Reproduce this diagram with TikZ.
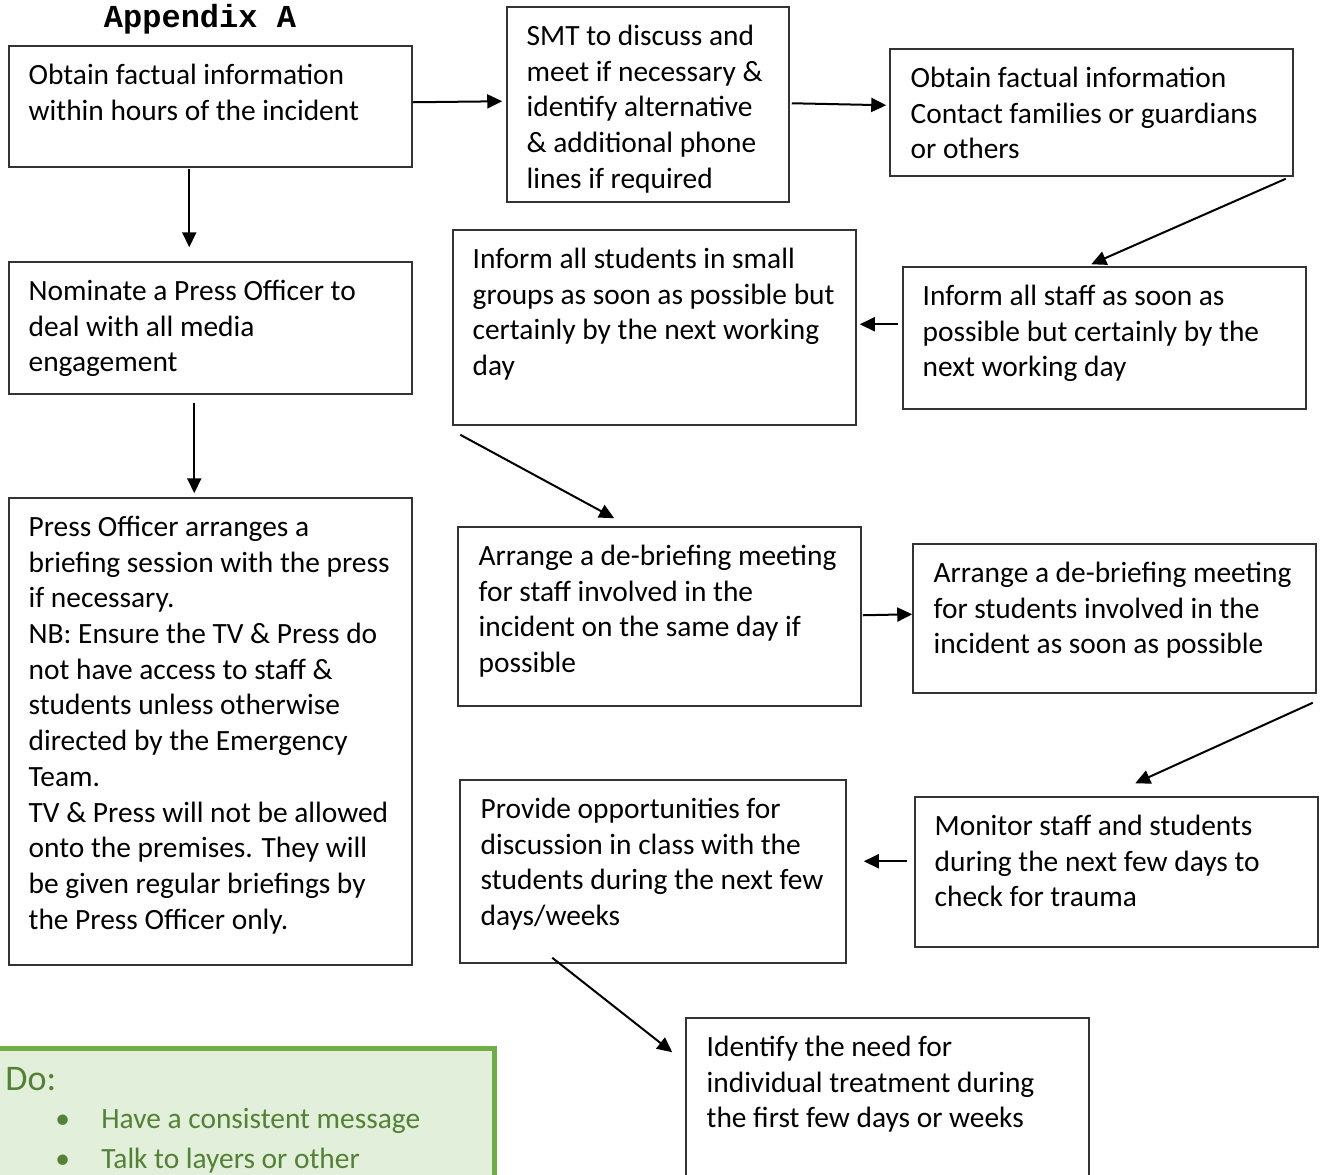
\documentclass[tikz,border=0pt]{standalone}
\usepackage{fontspec}
\setmainfont{Carlito}
\newfontfamily\titlefont{Liberation Mono}
\usetikzlibrary{arrows.meta,fit,calc}
\definecolor{gfill}{HTML}{E2EFDA}
\definecolor{gline}{HTML}{70AD47}
\definecolor{gtext}{HTML}{538135}
\begin{document}
\begin{tikzpicture}[x=0.5pt,y=-0.5pt,
  box/.style={draw=black!80, line width=0.75pt, inner sep=0pt},
  txt/.style={anchor=north west, inner sep=0pt, align=left, font=\fontsize{14.7}{17.85}\selectfont},
  arr/.style={line width=1pt, -{Triangle[length=7.5pt,width=7pt]}},
  gtxt/.style={anchor=base west, inner sep=0pt, text=gtext, font=\fontsize{14.7}{17.85}\selectfont}
]
\path[use as bounding box] (0,0) rectangle (1326,1174);

% title
\node[anchor=base, inner sep=0pt, font=\titlefont\bfseries\fontsize{16}{18}\selectfont] (title) at (200,27) {Appendix A};

% boxes
\node[box, fit={(9,46) (412,167)}] (A) {};
\node[box, fit={(507,7) (789,202)}] (B) {};
\node[box, fit={(890,49) (1293,176)}] (C) {};
\node[box, fit={(9,262) (412,394)}] (D) {};
\node[box, fit={(453,230) (856,425)}] (E) {};
\node[box, fit={(903,267) (1306,409)}] (F) {};
\node[box, fit={(9,498) (412,965)}] (G) {};
\node[box, fit={(458,527) (861,706)}] (H) {};
\node[box, fit={(913,544) (1316,693)}] (I) {};
\node[box, fit={(460,780) (846,963)}] (J) {};
\node[box, fit={(915,797) (1318,947)}] (K) {};
\node[box, fit={(686,1018) (1089,1200)}] (L) {};

% texts
\node[txt] (At) at ($(A.north west)+(20,18.5)$) {Obtain factual information\\within hours of the incident};
\node[txt] (Bt) at ($(B.north west)+(20,18.5)$) {SMT to discuss and\\meet if necessary \&\\identify alternative\\\& additional phone\\lines if required};
\node[txt] (Ct) at ($(C.north west)+(21,18.5)$) {Obtain factual information\\Contact families or guardians\\or others};
\node[txt] (Dt) at ($(D.north west)+(20,18.5)$) {Nominate a Press Officer to\\deal with all media\\engagement};
\node[txt] (Et) at ($(E.north west)+(20,18.5)$) {Inform all students in small\\groups as soon as possible but\\certainly by the next working\\day};
\node[txt] (Ft) at ($(F.north west)+(20,18.5)$) {Inform all staff as soon as\\possible but certainly by the\\next working day};
\node[txt] (Gt) at ($(G.north west)+(20,18.5)$) {Press Officer arranges a\\briefing session with the press\\if necessary.\\NB: Ensure the TV \& Press do\\not have access to staff \&\\students unless otherwise\\directed by the Emergency\\Team.\\TV \& Press will not be allowed\\onto the premises. They will\\be given regular briefings by\\the Press Officer only.};
\node[txt] (Ht) at ($(H.north west)+(21,18.5)$) {Arrange a de-briefing meeting\\for staff involved in the\\incident on the same day if\\possible};
\node[txt] (It) at ($(I.north west)+(21,18.5)$) {Arrange a de-briefing meeting\\for students involved in the\\incident as soon as possible};
\node[txt] (Jt) at ($(J.north west)+(21,18.5)$) {Provide opportunities for\\discussion in class with the\\students during the next few\\days/weeks};
\node[txt] (Kt) at ($(K.north west)+(20,18.5)$) {Monitor staff and students\\during the next few days to\\check for trauma};
\node[txt] (Lt) at ($(L.north west)+(21,18.5)$) {Identify the need for\\individual treatment during\\the first few days or weeks};

% arrows
\draw[arr] ($(A.north east)+(0,57)$) -- ($(B.north west)+(-4,95)$);
\draw[arr] ($(B.north east)+(2,97)$) -- ($(C.north west)+(-3,57)$);
\draw[arr] ($(A.south west)+(181,1)$) -- ($(D.north west)+(181,-14)$);
\draw[arr] ($(C.south east)+(-8,2)$) -- ($(F.north west)+(189,-2)$);
\draw[arr] ($(F.north west)+(-4,58)$) -- ($(E.north east)+(3,95)$);
\draw[arr] ($(D.south west)+(186,8)$) -- ($(G.north west)+(186,-4)$);
\draw[arr] ($(E.south west)+(8,9)$) -- ($(H.north west)+(157,-8)$);
\draw[arr] ($(H.north east)+(1,89)$) -- ($(I.north west)+(0,71)$);
\draw[arr] ($(I.south east)+(-4,9)$) -- ($(K.north west)+(221,-13)$);
\draw[arr] ($(K.north west)+(-7,65)$) -- ($(J.north east)+(17,82)$);
\draw[arr] ($(J.south west)+(93,-6)$) -- ($(L.north west)+(-13,35)$);

% green box
\begin{scope}
\clip (0,0) rectangle (1326,1174);
\node[draw=gline, fill=gfill, line width=2.5pt, inner sep=0pt, fit={(-20,1048) (494,1220)}] (green) {};
\end{scope}
\node[gtxt, font=\fontsize{18}{20}\selectfont] (do) at (5,1090) {Do:};
\node[gtxt] (b1) at (55,1128) {•};
\node[gtxt] (g1) at (101,1128) {Have a consistent message};
\node[gtxt] (b2) at (55,1168) {•};
\node[gtxt] (g2) at (101,1168) {Talk to layers or other};
\end{tikzpicture}
\end{document}
